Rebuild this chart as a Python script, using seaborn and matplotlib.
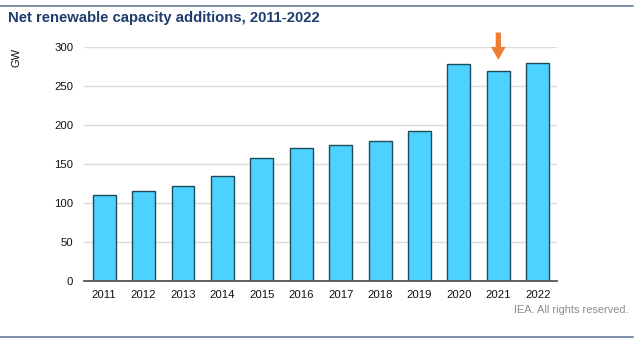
import matplotlib
matplotlib.use("Agg")
import matplotlib.pyplot as plt
import seaborn as sns
import pandas as pd
from matplotlib.lines import Line2D

# Net renewable capacity additions (GW)
years = ["2011", "2012", "2013", "2014", "2015", "2016",
         "2017", "2018", "2019", "2020", "2021", "2022"]
additions_gw = [110, 116, 122, 135, 158, 171, 174, 179, 192, 278, 269, 279]
y_ticks = [0, 50, 100, 150, 200, 250, 300]
highlight_year = "2021"

title_text = "Net renewable capacity additions, 2011-2022"
unit_label = "GW"
source_note = "IEA. All rights reserved."

df = pd.DataFrame({"year": years, "gw": additions_gw})

sns.set_theme(style="white")
plt.rcParams["font.family"] = ["Liberation Sans", "DejaVu Sans"]

fig = plt.figure(figsize=(6.4, 3.45), dpi=100)
ax = fig.add_axes([0.132, 0.1846, 0.739, 0.6804])

sns.barplot(data=df, x="year", y="gw", ax=ax, color="#4DD2FF",
            saturation=1, width=0.58, edgecolor="#1E4B5A", linewidth=1.0,
            zorder=3)

ax.set_ylim(0, 300)
ax.set_yticks(y_ticks)
ax.set_yticklabels([str(t) for t in y_ticks], fontsize=8.2, color="#111111")
ax.set_xticklabels(years, fontsize=8.2, color="#111111")
ax.set_xlabel("")
ax.set_ylabel("")
ax.yaxis.grid(True, color="#DCDCDC", linewidth=1.0, zorder=0)
ax.set_axisbelow(True)
for side in ["top", "right", "left"]:
    ax.spines[side].set_visible(False)
ax.spines["bottom"].set_color("#555555")
ax.spines["bottom"].set_linewidth(1.3)
ax.spines["bottom"].set_zorder(4)
ax.tick_params(axis="y", length=3, color="#DCDCDC", width=1.0, pad=5)
ax.tick_params(axis="x", length=0, pad=6)

# Orange arrow pointing at the highlighted year
idx = years.index(highlight_year)
ax.annotate("", xy=(idx, additions_gw[idx] + 14), xytext=(idx, 318),
            xycoords="data", textcoords="data", annotation_clip=False,
            arrowprops=dict(arrowstyle="simple,head_width=10.5,head_length=9.3,tail_width=3.8",
                            mutation_scale=1, color="#ED7D31", lw=0,
                            shrinkA=0, shrinkB=0))

# Title, unit label and source note
fig.text(8 / 640, 1 - 18 / 345, title_text, fontsize=10.7, fontweight="bold",
         color="#1F3C6E", ha="left", va="center")
fig.text(16 / 640, 1 - 57 / 345, unit_label, fontsize=8.0, rotation=90,
         color="#111111", ha="center", va="center")
fig.text(629 / 640, 1 - 310 / 345, source_note, fontsize=7.9,
         color="#8C8C8C", ha="right", va="center")

# Horizontal rules framing the figure
for ypix in (6, 337):
    fig.add_artist(Line2D([0, 633 / 640], [1 - ypix / 345] * 2,
                          transform=fig.transFigure, color="#6F879F",
                          linewidth=1.3))

fig.savefig("out.png", dpi=100)
